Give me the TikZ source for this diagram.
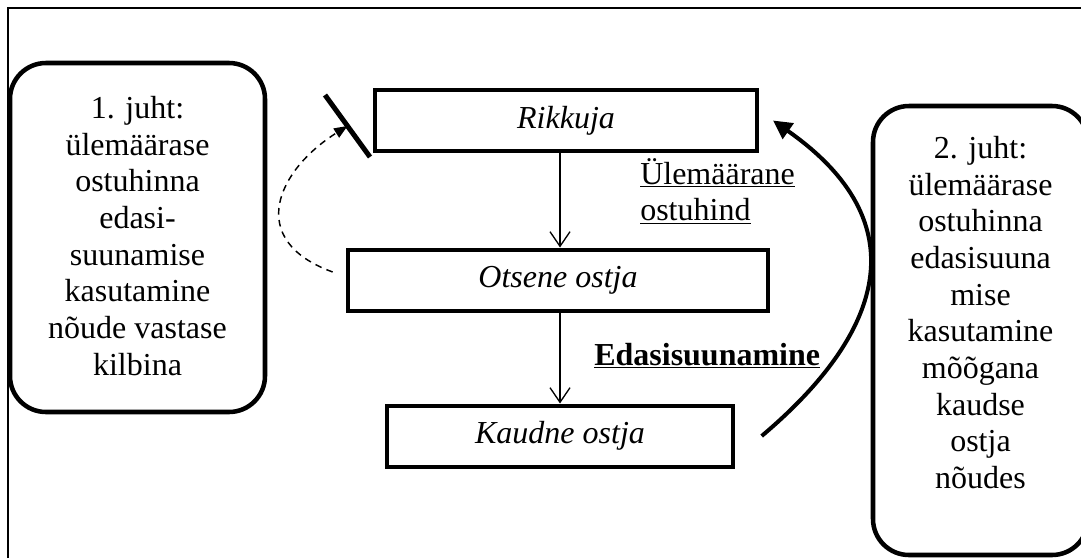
\documentclass[tikz,border=0pt]{standalone}
\usepackage{fontspec}
\setmainfont{Liberation Serif}
\usetikzlibrary{arrows.meta, positioning}

\begin{document}
\begin{tikzpicture}[x=0.75pt, y=-0.75pt,
    every node/.style={font=\fontsize{24}{27.5}\selectfont},
    party/.style={draw, line width=3pt, minimum height=45.75pt, font=\fontsize{24}{27.5}\selectfont\itshape},
    casebox/.style={draw, line width=3.4pt, rounded corners=27pt, outer sep=0pt},
    casetext/.style={align=center, inner sep=0pt},
    note/.style={inner sep=0pt},
    flow/.style={-{Straight Barb[length=11pt, width=15pt]}, line width=1pt},
    backflow/.style={-{Triangle[length=10pt, width=8pt]}, line width=1.1pt, dash pattern=on 5pt off 4pt},
    push/.style={-{Triangle[length=14pt, width=14pt]}, line width=3pt},
    shield/.style={line width=3.75pt}]
        \useasboundingbox (0,0) rectangle (1081,558);
        \clip (0,0) rectangle (1081,558);
        \draw[line width=1.5pt] (8,558) -- (8,8) -- (1081,8);
        \node[casebox, minimum width=191.25pt, minimum height=261.75pt] (case1) at (137.5,237.5) {};
        \node[casetext, below=24.75pt of case1.north] (case1txt) {1. juht:\\ülemäärase\\ostuhinna\\edasi-\\suunamise\\kasutamine\\nõude vastase\\kilbina};
        \node[casebox, minimum width=161.25pt, minimum height=336.75pt] (case2) at (980.5,330.5) {};
        \node[casetext, below=22.5pt of case2.north] (case2txt) {2. juht:\\ülemäärase\\ostuhinna\\edasisuuna\\mise\\kasutamine\\mõõgana\\kaudse\\ostja\\nõudes};
        \node[party, minimum width=286.5pt] (rik) at (566,120.5) {Rikkuja};
        \node[party, minimum width=315pt] (ots) at (558,280) {Otsene ostja};
        \node[party, minimum width=259.5pt] (kau) at (560,436) {Kaudne ostja};
        \draw[flow] (rik.south -| kau.north) -- (ots.north -| kau.north);
        \draw[flow] (ots.south -| kau.north) -- (kau.north);
        \node[note, anchor=north west, align=left] (pricelbl) at (640,158) {\underline{Ülemäärane}\\\underline{ostuhind}};
        \node[note, anchor=base west, font=\fontsize{24}{27.5}\selectfont\bfseries] (passlbl) at (594,365) {\underline{Edasisuunamine}};
        \coordinate (shieldtop) at (325,95);
        \coordinate (shieldbot) at (370,157);
        \coordinate (shieldmid) at (347.5,126);
        \draw[shield] (shieldtop) -- (shieldbot);
        \draw[backflow] ([xshift=-10pt, yshift=6pt]ots.west) .. controls +(-88,-32) and +(-70,44) .. (shieldmid);
        \draw[push] ([xshift=20pt]kau.east) .. controls +(121,-102) and +(147,103) .. ([xshift=10.5pt]rik.east);
\end{tikzpicture}
\end{document}
